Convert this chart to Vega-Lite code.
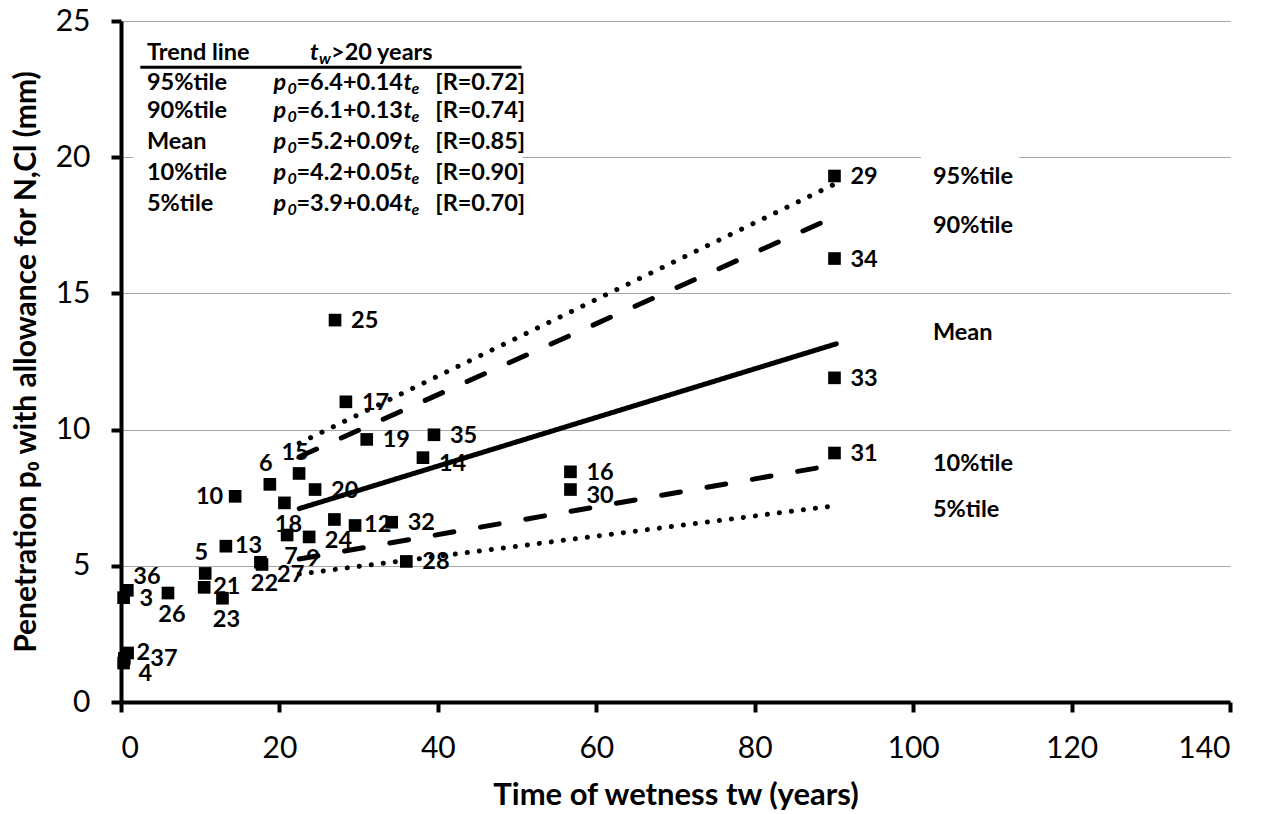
{
  "$schema": "https://vega.github.io/schema/vega-lite/v6.json",
  "width": 1109,
  "height": 681,
  "autosize": "none",
  "padding": {"left": 121, "top": 21, "right": 31, "bottom": 112},
  "background": "white",
  "config": {
    "view": {"stroke": null},
    "font": "Lato",
    "text": {"font": "Lato", "fontSize": 23.5, "fontWeight": "bold", "baseline": "middle", "align": "left", "color": "black"}
  },
  "datasets": {
    "points": [
      {"id": "29", "t": 90.07, "p": 19.31},
      {"id": "34", "t": 90.07, "p": 16.28},
      {"id": "33", "t": 90.07, "p": 11.9},
      {"id": "31", "t": 90.07, "p": 9.14},
      {"id": "16", "t": 56.74, "p": 8.45},
      {"id": "30", "t": 56.74, "p": 7.8},
      {"id": "25", "t": 27.02, "p": 14.02},
      {"id": "17", "t": 28.39, "p": 11.02},
      {"id": "19", "t": 31.02, "p": 9.64},
      {"id": "35", "t": 39.51, "p": 9.81},
      {"id": "14", "t": 38.12, "p": 8.97},
      {"id": "15", "t": 22.48, "p": 8.39},
      {"id": "6", "t": 18.79, "p": 7.99},
      {"id": "10", "t": 14.41, "p": 7.55},
      {"id": "20", "t": 24.5, "p": 7.8},
      {"id": "18", "t": 20.63, "p": 7.31},
      {"id": "24", "t": 26.94, "p": 6.7},
      {"id": "12", "t": 29.55, "p": 6.48},
      {"id": "32", "t": 34.17, "p": 6.6},
      {"id": "7", "t": 20.97, "p": 6.13},
      {"id": "9", "t": 23.75, "p": 6.06},
      {"id": "13", "t": 13.24, "p": 5.72},
      {"id": "22", "t": 17.6, "p": 5.13},
      {"id": "27", "t": 17.8, "p": 5.05},
      {"id": "28", "t": 36.02, "p": 5.16},
      {"id": "5", "t": 10.63, "p": 4.72},
      {"id": "21", "t": 10.5, "p": 4.21},
      {"id": "23", "t": 12.81, "p": 3.81},
      {"id": "26", "t": 5.93, "p": 4.0},
      {"id": "36", "t": 0.8, "p": 4.1},
      {"id": "3", "t": 0.33, "p": 3.83},
      {"id": "2", "t": 0.83, "p": 1.8},
      {"id": "37", "t": 0.42, "p": 1.6},
      {"id": "4", "t": 0.33, "p": 1.43}
    ],
    "lines": [
      {"series": "95%tile", "t": 22.5, "p": 9.5},
      {"series": "95%tile", "t": 90, "p": 19.0},
      {"series": "90%tile", "t": 22.5, "p": 9.0},
      {"series": "90%tile", "t": 90, "p": 17.8},
      {"series": "Mean", "t": 22.5, "p": 7.1},
      {"series": "Mean", "t": 90.3, "p": 13.15},
      {"series": "10%tile", "t": 22.5, "p": 5.25},
      {"series": "10%tile", "t": 90, "p": 8.7},
      {"series": "5%tile", "t": 22.5, "p": 4.7},
      {"series": "5%tile", "t": 90, "p": 7.2}
    ],
    "lineLabels": [
      {"name": "95%tile", "t": 102.5, "p": 19.28},
      {"name": "90%tile", "t": 102.5, "p": 17.47},
      {"name": "Mean", "t": 102.5, "p": 13.53},
      {"name": "10%tile", "t": 102.5, "p": 8.75},
      {"name": "5%tile", "t": 102.5, "p": 7.04}
    ],
    "table": [
      {"name": "95%tile", "eq": "=6.4+0.14", "r": "[R=0.72]", "p": 22.73},
      {"name": "90%tile", "eq": "=6.1+0.13", "r": "[R=0.74]", "p": 21.69},
      {"name": "Mean", "eq": "=5.2+0.09", "r": "[R=0.85]", "p": 20.57},
      {"name": "10%tile", "eq": "=4.2+0.05", "r": "[R=0.90]", "p": 19.43},
      {"name": "5%tile", "eq": "=3.9+0.04", "r": "[R=0.70]", "p": 18.3}
    ]
  },
  "layer": [
    {
      "data": {"values": [{}]},
      "mark": {"type": "rect", "color": "white"},
      "encoding": {
        "x": {"datum": 1.56, "type": "quantitative", "scale": {"domain": [0, 140], "nice": false, "zero": true},
          "axis": {"title": "Time of wetness tw (years)", "values": [0, 20, 40, 60, 80, 100, 120, 140], "grid": false,
            "domainColor": "black", "domainWidth": 4, "tickColor": "black", "tickWidth": 4, "tickSize": 10,
            "labelFont": "Lato", "labelFontSize": 30, "labelColor": "black", "labelPadding": 21,
            "titleFont": "Lato", "titleFontSize": 31, "titleFontWeight": "bold", "titleColor": "black", "titlePadding": 17}},
        "x2": {"datum": 50.7},
        "y": {"datum": 17.5, "type": "quantitative", "scale": {"domain": [0, 25], "nice": false},
          "axis": {"title": "Penetration p₀ with allowance for N,Cl (mm)", "values": [0, 5, 10, 15, 20, 25], "grid": true,
            "gridColor": "#a6a6a6", "gridWidth": 1.2,
            "domainColor": "black", "domainWidth": 4, "tickColor": "black", "tickWidth": 4, "tickSize": 10,
            "labelFont": "Lato", "labelFontSize": 30, "labelColor": "black", "labelPadding": 21,
            "titleFont": "Lato", "titleFontSize": 30, "titleFontWeight": "bold", "titleColor": "black", "titlePadding": 14}},
        "y2": {"datum": 24.6}
      }
    },
    {
      "data": {"values": [{}]},
      "mark": {"type": "rect", "color": "white"},
      "encoding": {
        "x": {"datum": 101.0, "type": "quantitative"},
        "x2": {"datum": 113.4},
        "y": {"datum": 18.5, "type": "quantitative"},
        "y2": {"datum": 20.5}
      }
    },
    {
      "data": {"values": [{}]},
      "mark": {"type": "rule", "color": "black", "strokeWidth": 3},
      "encoding": {
        "x": {"datum": 2.44, "type": "quantitative"},
        "x2": {"datum": 50.57},
        "y": {"datum": 23.3, "type": "quantitative"}
      }
    },
    {
      "data": {"values": [{}]},
      "mark": {"type": "text", "text": "Trend line"},
      "encoding": {"x": {"datum": 3.28, "type": "quantitative"}, "y": {"datum": 23.84, "type": "quantitative"}}
    },
    {
      "data": {"values": [{}]},
      "mark": {"type": "text", "text": "t", "fontStyle": "italic"},
      "encoding": {"x": {"datum": 23.87, "type": "quantitative"}, "y": {"datum": 23.84, "type": "quantitative"}}
    },
    {
      "data": {"values": [{}]},
      "mark": {"type": "text", "text": "w", "fontStyle": "italic", "fontSize": 16, "dx": 9, "dy": 6},
      "encoding": {"x": {"datum": 23.87, "type": "quantitative"}, "y": {"datum": 23.84, "type": "quantitative"}}
    },
    {
      "data": {"values": [{}]},
      "mark": {"type": "text", "text": ">20 years", "dx": 21},
      "encoding": {"x": {"datum": 23.87, "type": "quantitative"}, "y": {"datum": 23.84, "type": "quantitative"}}
    },
    {
      "data": {"name": "table"},
      "mark": {"type": "text"},
      "encoding": {"x": {"datum": 3.28, "type": "quantitative"}, "y": {"field": "p", "type": "quantitative"}, "text": {"field": "name"}}
    },
    {
      "data": {"name": "table"},
      "mark": {"type": "text", "text": "p", "fontStyle": "italic"},
      "encoding": {"x": {"datum": 19.24, "type": "quantitative"}, "y": {"field": "p", "type": "quantitative"}}
    },
    {
      "data": {"name": "table"},
      "mark": {"type": "text", "text": "0", "fontStyle": "italic", "fontSize": 16, "dx": 14, "dy": 6},
      "encoding": {"x": {"datum": 19.24, "type": "quantitative"}, "y": {"field": "p", "type": "quantitative"}}
    },
    {
      "data": {"name": "table"},
      "mark": {"type": "text", "dx": 23},
      "encoding": {"x": {"datum": 19.24, "type": "quantitative"}, "y": {"field": "p", "type": "quantitative"}, "text": {"field": "eq"}}
    },
    {
      "data": {"name": "table"},
      "mark": {"type": "text", "text": "t", "fontStyle": "italic", "dx": 130},
      "encoding": {"x": {"datum": 19.24, "type": "quantitative"}, "y": {"field": "p", "type": "quantitative"}}
    },
    {
      "data": {"name": "table"},
      "mark": {"type": "text", "text": "e", "fontStyle": "italic", "fontSize": 16, "dx": 138, "dy": 6},
      "encoding": {"x": {"datum": 19.24, "type": "quantitative"}, "y": {"field": "p", "type": "quantitative"}}
    },
    {
      "data": {"name": "table"},
      "mark": {"type": "text", "dx": 2},
      "encoding": {"x": {"datum": 39.42, "type": "quantitative"}, "y": {"field": "p", "type": "quantitative"}, "text": {"field": "r"}}
    },
    {
      "data": {"name": "lines"},
      "mark": {"type": "line", "color": "black", "strokeWidth": 5, "strokeCap": "round"},
      "encoding": {
        "x": {"field": "t", "type": "quantitative"},
        "y": {"field": "p", "type": "quantitative"},
        "detail": {"field": "series"},
        "strokeDash": {"field": "series", "type": "nominal", "legend": null,
          "scale": {"domain": ["95%tile", "90%tile", "Mean", "10%tile", "5%tile"],
            "range": [[0.1, 12.5], [19, 27], [1, 0], [19, 27], [0.1, 12]]}}
      }
    },
    {
      "data": {"name": "points"},
      "mark": {"type": "point", "shape": "square", "filled": true, "color": "black", "size": 160, "opacity": 1},
      "encoding": {"x": {"field": "t", "type": "quantitative"}, "y": {"field": "p", "type": "quantitative"}}
    },
    {
      "data": {"name": "points"},
      "transform": [{"filter": {"field": "id", "oneOf": ["29", "34", "33", "31", "16", "25", "17", "19", "35", "20", "28", "32", "3"]}}],
      "mark": {"type": "text", "dx": 16, "dy": 1},
      "encoding": {"x": {"field": "t", "type": "quantitative"}, "y": {"field": "p", "type": "quantitative"}, "text": {"field": "id"}}
    },
    {
      "data": {"name": "points"},
      "transform": [{"filter": {"field": "id", "oneOf": ["12", "13", "21", "2"]}}],
      "mark": {"type": "text", "dx": 9, "dy": 0},
      "encoding": {"x": {"field": "t", "type": "quantitative"}, "y": {"field": "p", "type": "quantitative"}, "text": {"field": "id"}}
    },
    {
      "data": {"name": "points"},
      "transform": [{"filter": {"field": "id", "oneOf": ["14", "30"]}}],
      "mark": {"type": "text", "dx": 16, "dy": 6},
      "encoding": {"x": {"field": "t", "type": "quantitative"}, "y": {"field": "p", "type": "quantitative"}, "text": {"field": "id"}}
    },
    {
      "data": {"name": "points"},
      "transform": [{"filter": {"field": "id", "oneOf": ["4", "27"]}}],
      "mark": {"type": "text", "dx": 15, "dy": 11},
      "encoding": {"x": {"field": "t", "type": "quantitative"}, "y": {"field": "p", "type": "quantitative"}, "text": {"field": "id"}}
    },
    {
      "data": {"name": "points"},
      "transform": [{"filter": {"field": "id", "oneOf": ["37"]}}],
      "mark": {"type": "text", "dx": 26, "dy": 1},
      "encoding": {"x": {"field": "t", "type": "quantitative"}, "y": {"field": "p", "type": "quantitative"}, "text": {"field": "id"}}
    },
    {
      "data": {"name": "points"},
      "transform": [{"filter": {"field": "id", "oneOf": ["36"]}}],
      "mark": {"type": "text", "dx": 6, "dy": -13},
      "encoding": {"x": {"field": "t", "type": "quantitative"}, "y": {"field": "p", "type": "quantitative"}, "text": {"field": "id"}}
    },
    {
      "data": {"name": "points"},
      "transform": [{"filter": {"field": "id", "oneOf": ["26", "23", "22", "18", "24", "7", "9"]}}],
      "mark": {"type": "text", "align": "center", "dx": 4, "dy": 22},
      "encoding": {"x": {"field": "t", "type": "quantitative"}, "y": {"field": "p", "type": "quantitative"}, "text": {"field": "id"}}
    },
    {
      "data": {"name": "points"},
      "transform": [{"filter": {"field": "id", "oneOf": ["5", "6", "15"]}}],
      "mark": {"type": "text", "align": "center", "dx": -4, "dy": -20},
      "encoding": {"x": {"field": "t", "type": "quantitative"}, "y": {"field": "p", "type": "quantitative"}, "text": {"field": "id"}}
    },
    {
      "data": {"name": "points"},
      "transform": [{"filter": {"field": "id", "oneOf": ["10"]}}],
      "mark": {"type": "text", "align": "right", "dx": -12, "dy": 1},
      "encoding": {"x": {"field": "t", "type": "quantitative"}, "y": {"field": "p", "type": "quantitative"}, "text": {"field": "id"}}
    },
    {
      "data": {"name": "lineLabels"},
      "mark": {"type": "text"},
      "encoding": {"x": {"field": "t", "type": "quantitative"}, "y": {"field": "p", "type": "quantitative"}, "text": {"field": "name"}}
    }
  ]
}
